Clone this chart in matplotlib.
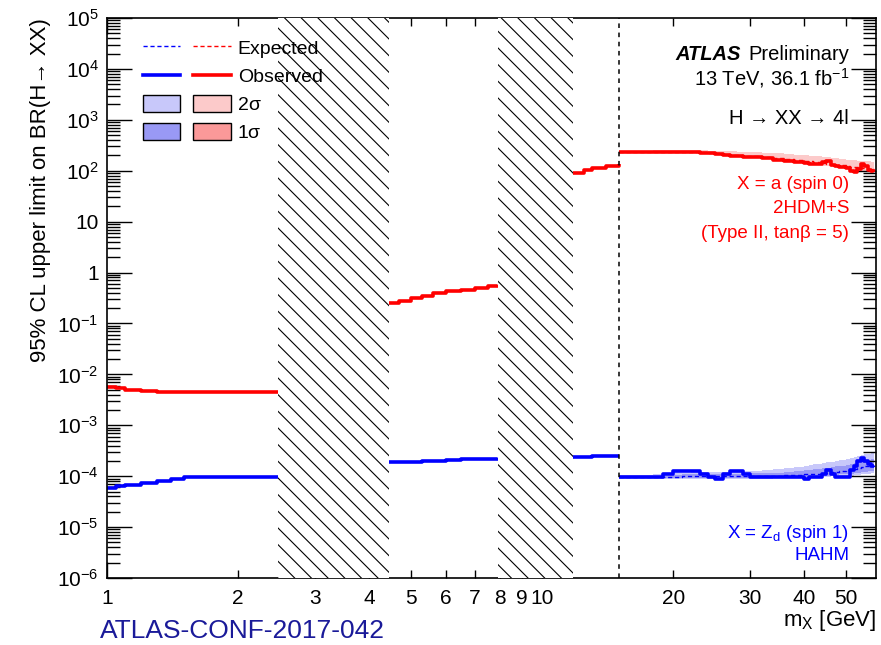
import numpy as np
import matplotlib
matplotlib.use('Agg')
import matplotlib.pyplot as plt
from matplotlib.lines import Line2D
from matplotlib.patches import Patch
from matplotlib.legend_handler import HandlerTuple
from matplotlib.ticker import FixedLocator, FuncFormatter, LogLocator, NullFormatter

plt.rcParams['font.family'] = ['Liberation Sans', 'DejaVu Sans']
plt.rcParams['mathtext.fontset'] = 'custom'
plt.rcParams['mathtext.rm'] = 'Liberation Sans'
plt.rcParams['mathtext.it'] = 'Liberation Sans:italic'
plt.rcParams['hatch.linewidth'] = 0.8

# excluded mass windows and the vertical divider (GeV)
veto_lo = [2.47, 7.9]
veto_hi = [4.45, 11.8]
divider = 15.0

# segment A: 1 - 2.47 GeV
mA = [1.0, 1.05, 1.1, 1.2, 1.3, 1.4, 1.5, 1.7, 2.0, 2.2, 2.47]
redA = [5.6e-3, 5.5e-3, 5.0e-3, 4.8e-3, 4.6e-3, 4.6e-3, 4.6e-3, 4.6e-3, 4.5e-3, 4.5e-3, 4.5e-3]
blueA = [5.8e-5, 6.3e-5, 6.8e-5, 7.5e-5, 8.2e-5, 8.8e-5, 9.6e-5, 9.8e-5, 9.8e-5, 9.8e-5, 9.8e-5]

# segment B: 4.45 - 7.9 GeV
mB = [4.45, 4.7, 5.0, 5.3, 5.6, 6.0, 6.5, 7.0, 7.5, 7.9]
redB = [0.25, 0.28, 0.31, 0.35, 0.40, 0.44, 0.46, 0.50, 0.55, 0.58]
blueB = [1.9e-4, 1.9e-4, 1.9e-4, 1.95e-4, 2.0e-4, 2.05e-4, 2.15e-4, 2.2e-4, 2.2e-4, 2.25e-4]

# segment C: 11.8 - 15 GeV
mC = [11.8, 12.5, 13.0, 14.0, 15.0]
redC = [92, 102, 112, 125, 138]
blueC = [2.4e-4, 2.4e-4, 2.45e-4, 2.45e-4, 2.45e-4]

# segment D: 15 - 58 GeV
mD = [15, 16, 17, 18, 19, 20, 21, 22, 23, 24, 25, 26, 27, 28, 29, 30, 32, 34, 36, 38,
      40, 41, 42, 44, 45, 46, 47, 48, 50, 51, 52, 53, 54, 55, 56, 57, 58]
redD_obs = [235, 236, 236, 235, 234, 233, 232, 230, 225, 218, 210, 203, 197, 192, 188, 185,
            175, 165, 158, 150, 142, 138, 134, 150, 155, 130, 122, 118, 112, 100, 96, 110,
            133, 125, 105, 98, 96]
redD_exp = [235, 236, 236, 236, 236, 236, 236, 234, 230, 224, 218, 212, 207, 202, 198, 194,
            186, 178, 170, 163, 156, 152, 148, 142, 138, 134, 130, 127, 122, 120, 118, 116,
            114, 112, 110, 108, 106]
redD_2lo = [228, 230, 230, 230, 230, 230, 228, 225, 218, 212, 205, 198, 192, 187, 183, 180,
            172, 163, 156, 148, 140, 136, 132, 126, 122, 118, 114, 111, 106, 104, 102, 100,
            98, 96, 94, 92, 90]
redD_2hi = [245, 246, 248, 250, 252, 252, 252, 252, 250, 248, 245, 242, 240, 238, 235, 232,
            228, 222, 215, 208, 200, 196, 192, 186, 182, 178, 174, 170, 165, 162, 160, 158,
            156, 154, 152, 150, 148]
blueD_obs = [9.6e-5, 9.6e-5, 9.6e-5, 9.6e-5, 1.1e-4, 1.25e-4, 1.25e-4, 1.25e-4, 1.1e-4, 9.6e-5,
             9.0e-5, 1.1e-4, 1.25e-4, 1.25e-4, 1.1e-4, 9.6e-5, 9.6e-5, 9.6e-5, 9.6e-5, 9.6e-5,
             9.0e-5, 9.6e-5, 9.6e-5, 1.1e-4, 1.35e-4, 1.1e-4, 9.8e-5, 9.8e-5, 9.8e-5, 1.3e-4,
             1.6e-4, 2.0e-4, 2.3e-4, 2.0e-4, 1.7e-4, 1.6e-4, 1.55e-4]
blueD_exp = [9.6e-5, 9.6e-5, 9.6e-5, 9.6e-5, 9.6e-5, 9.8e-5, 1.0e-4, 1.0e-4, 1.0e-4, 1.0e-4,
             1.0e-4, 1.0e-4, 1.0e-4, 1.0e-4, 1.0e-4, 1.0e-4, 1.0e-4, 1.02e-4, 1.04e-4, 1.06e-4,
             1.08e-4, 1.1e-4, 1.12e-4, 1.15e-4, 1.17e-4, 1.2e-4, 1.22e-4, 1.25e-4, 1.3e-4, 1.35e-4,
             1.4e-4, 1.45e-4, 1.5e-4, 1.55e-4, 1.6e-4, 1.62e-4, 1.65e-4]
blueD_1lo = [9.2e-5, 9.2e-5, 9.2e-5, 9.2e-5, 9.2e-5, 9.3e-5, 9.4e-5, 9.4e-5, 9.4e-5, 9.4e-5,
             9.4e-5, 9.4e-5, 9.4e-5, 9.4e-5, 9.4e-5, 9.4e-5, 9.4e-5, 9.5e-5, 9.6e-5, 9.7e-5,
             9.8e-5, 9.9e-5, 1.0e-4, 1.02e-4, 1.03e-4, 1.05e-4, 1.06e-4, 1.08e-4, 1.1e-4, 1.12e-4,
             1.15e-4, 1.18e-4, 1.2e-4, 1.22e-4, 1.25e-4, 1.27e-4, 1.3e-4]
blueD_1hi = [1.0e-4, 1.0e-4, 1.0e-4, 1.0e-4, 1.02e-4, 1.05e-4, 1.08e-4, 1.1e-4, 1.1e-4, 1.1e-4,
             1.1e-4, 1.1e-4, 1.12e-4, 1.12e-4, 1.12e-4, 1.13e-4, 1.15e-4, 1.18e-4, 1.22e-4, 1.26e-4,
             1.3e-4, 1.33e-4, 1.36e-4, 1.42e-4, 1.46e-4, 1.5e-4, 1.55e-4, 1.6e-4, 1.68e-4, 1.75e-4,
             1.82e-4, 1.9e-4, 1.98e-4, 2.05e-4, 2.1e-4, 2.15e-4, 2.2e-4]
blueD_2lo = [8.8e-5, 8.8e-5, 8.8e-5, 8.8e-5, 8.8e-5, 8.8e-5, 8.8e-5, 8.8e-5, 8.8e-5, 8.8e-5,
             8.8e-5, 8.8e-5, 8.8e-5, 8.8e-5, 8.8e-5, 8.9e-5, 9.0e-5, 9.1e-5, 9.2e-5, 9.3e-5,
             9.4e-5, 9.5e-5, 9.6e-5, 9.7e-5, 9.8e-5, 9.9e-5, 1.0e-4, 1.0e-4, 1.02e-4, 1.03e-4,
             1.05e-4, 1.07e-4, 1.09e-4, 1.1e-4, 1.12e-4, 1.14e-4, 1.15e-4]
blueD_2hi = [1.05e-4, 1.05e-4, 1.06e-4, 1.08e-4, 1.1e-4, 1.14e-4, 1.18e-4, 1.2e-4, 1.2e-4, 1.2e-4,
             1.2e-4, 1.22e-4, 1.24e-4, 1.25e-4, 1.26e-4, 1.28e-4, 1.32e-4, 1.38e-4, 1.45e-4, 1.52e-4,
             1.6e-4, 1.65e-4, 1.7e-4, 1.8e-4, 1.86e-4, 1.92e-4, 2.0e-4, 2.08e-4, 2.2e-4, 2.3e-4,
             2.4e-4, 2.5e-4, 2.6e-4, 2.7e-4, 2.75e-4, 2.8e-4, 2.85e-4]

x_minor = [2, 3, 4, 5, 6, 7, 8, 9, 20, 30, 40, 50]

fig = plt.figure(figsize=(8.81, 6.45), dpi=100)
ax = fig.add_axes([107 / 881, 67 / 645, 769 / 881, 560 / 645])
ax.set_xscale('log')
ax.set_yscale('log')
ax.set_xlim(1, 58.5)
ax.set_ylim(1e-6, 1e5)

lblue = '#c8c8fa'
dblue = '#9999f5'
lred = '#fccaca'
dred = '#fb9999'

# bands (only the high-mass region has visible bands)
ax.fill_between(mD, blueD_2lo, blueD_2hi, color=lblue, lw=0, step='post')
ax.fill_between(mD, blueD_1lo, blueD_1hi, color=dblue, lw=0, step='post')
ax.fill_between(mD, redD_2lo, redD_2hi, color=lred, lw=0, step='post')

# expected lines
ax.plot(mD, blueD_exp, color='blue', ls=(0, (3, 2)), lw=1, drawstyle='steps-post')
ax.plot(mD, redD_exp, color='red', ls=(0, (3, 2)), lw=1, drawstyle='steps-post')

# observed lines
for m, r, b in [(mA, redA, blueA), (mB, redB, blueB), (mC, redC, blueC), (mD, redD_obs, blueD_obs)]:
    ax.plot(m, r, color='red', lw=2.6, drawstyle='steps-post', solid_capstyle='butt')
    ax.plot(m, b, color='blue', lw=2.6, drawstyle='steps-post', solid_capstyle='butt')

# excluded regions
for lo, hi in zip(veto_lo, veto_hi):
    ax.axvspan(lo, hi, facecolor='white', edgecolor='black', hatch='\\\\', lw=0, zorder=3)
ax.axvline(divider, color='black', ls=(0, (3, 3)), lw=1.1, zorder=4)

# axes styling
for s in ax.spines.values():
    s.set_linewidth(1.2)
ax.xaxis.set_major_locator(FixedLocator([1, 10]))
ax.xaxis.set_minor_locator(FixedLocator(x_minor))
ax.xaxis.set_major_formatter(FuncFormatter(lambda v, p: '%d' % round(v)))
ax.xaxis.set_minor_formatter(FuncFormatter(lambda v, p: '%d' % round(v)))
ax.yaxis.set_major_locator(LogLocator(base=10, numticks=20))
ax.yaxis.set_minor_locator(LogLocator(base=10, subs=np.arange(2, 10), numticks=20))
ax.yaxis.set_minor_formatter(NullFormatter())


def yfmt(v, p):
    n = int(round(np.log10(v)))
    if n == 0:
        return '1'
    if n == 1:
        return '10'
    return '10$^{%d}$' % n


ax.yaxis.set_major_formatter(FuncFormatter(yfmt))
ax.tick_params(which='both', direction='in', top=True, right=True, labelsize=15, width=1)
ax.tick_params(axis='x', which='major', length=11.5, pad=8)
ax.tick_params(axis='x', which='minor', length=6, pad=8)
ax.tick_params(axis='y', which='major', length=18, pad=6)
ax.tick_params(axis='y', which='minor', length=9.5)

ax.set_xlabel('m$_{\\mathrm{X}}$ [GeV]', fontsize=16, loc='right', labelpad=0)
ax.set_ylabel('95% CL upper limit on BR(H→ XX)', fontsize=16, loc='top', labelpad=4)

# legend
h_exp = (Line2D([], [], color='blue', ls=(0, (3, 2)), lw=1), Line2D([], [], color='red', ls=(0, (3, 2)), lw=1))
h_obs = (Line2D([], [], color='blue', lw=2.6), Line2D([], [], color='red', lw=2.6))
h_2s = (Patch(facecolor=lblue, edgecolor='black', lw=1), Patch(facecolor=lred, edgecolor='black', lw=1))
h_1s = (Patch(facecolor=dblue, edgecolor='black', lw=1), Patch(facecolor=dred, edgecolor='black', lw=1))
ax.legend([h_exp, h_obs, h_2s, h_1s], ['Expected', 'Observed', '2σ', '1σ'],
          handler_map={tuple: HandlerTuple(ndivide=None, pad=0.67)},
          loc='upper left', bbox_to_anchor=(0.047, 0.963), frameon=False, fontsize=14,
          handlelength=4.5, handleheight=1.0, handletextpad=0.36, labelspacing=0.45,
          borderpad=0, borderaxespad=0)

# annotations
t = ax.text(0.965, 0.925, 'Preliminary', transform=ax.transAxes, ha='right', fontsize=14.5)
ax.annotate('ATLAS', xy=(0, 0), xycoords=t, xytext=(-5, 0), textcoords='offset points',
            ha='right', va='bottom', fontsize=14.5, fontweight='bold', style='italic')
ax.text(0.965, 0.88, '13 TeV, 36.1 fb$^{-1}$', transform=ax.transAxes, ha='right', fontsize=14.5)
ax.text(0.965, 0.81, 'H → XX → 4l', transform=ax.transAxes, ha='right', fontsize=14.5)
ax.text(0.965, 0.695, 'X = a (spin 0)', transform=ax.transAxes, ha='right', fontsize=13.5, color='red')
ax.text(0.965, 0.651, '2HDM+S', transform=ax.transAxes, ha='right', fontsize=13.5, color='red')
ax.text(0.965, 0.608, '(Type II, tanβ = 5)', transform=ax.transAxes, ha='right', fontsize=13.5, color='red')
ax.text(0.965, 0.072, 'X = Z$_{\\mathrm{d}}$ (spin 1)', transform=ax.transAxes, ha='right', fontsize=13.5, color='blue')
ax.text(0.965, 0.032, 'HAHM', transform=ax.transAxes, ha='right', fontsize=13.5, color='blue')

fig.text(100 / 881, 2 / 645, 'ATLAS-CONF-2017-042', color='#1a1a99', fontsize=19, va='bottom')

fig.savefig('out.png', dpi=100)
